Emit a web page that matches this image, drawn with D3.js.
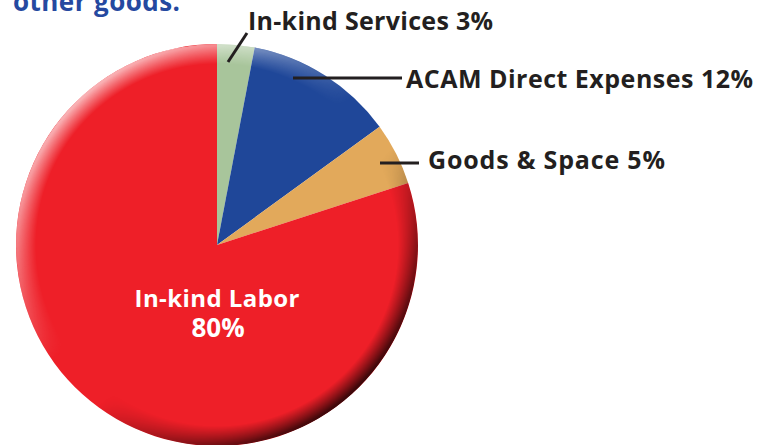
<!DOCTYPE html>
<meta charset="utf-8">
<style>
body { margin: 0; background: #fff; }
svg { display: block; }
.lbl { font-family: "Open Sans", Lato, sans-serif; font-weight: 700; fill: #231f20; }
</style>
<svg id="chart" width="758" height="445"></svg>
<script src="https://d3js.org/d3.v7.min.js"></script>
<script>
// slices clockwise from 12 o'clock
var names = ["In-kind Services", "ACAM Direct Expenses", "Goods & Space", "In-kind Labor"];
var shares = [3, 12, 5, 80];
var colors = ["#a8c59b", "#1f4799", "#e2a95b", "#ee1f28"];

var width = 758, height = 445,
    cx = 217, cy = 245, radius = 201;

var svg = d3.select("#chart");
var defs = svg.append("defs");

// bevel shading: light at top-left, dark at bottom-right
var lg = defs.append("linearGradient").attr("id", "bevel")
    .attr("x1", "0.15").attr("y1", "0.1").attr("x2", "0.85").attr("y2", "0.9");
lg.append("stop").attr("offset", "0").attr("stop-color", "#fff").attr("stop-opacity", 0.7);
lg.append("stop").attr("offset", "0.45").attr("stop-color", "#fff").attr("stop-opacity", 0);
lg.append("stop").attr("offset", "0.6").attr("stop-color", "#000").attr("stop-opacity", 0);
lg.append("stop").attr("offset", "1").attr("stop-color", "#000").attr("stop-opacity", 0.8);

var rg = defs.append("radialGradient").attr("id", "rim")
    .attr("cx", "0.5").attr("cy", "0.5").attr("r", "0.5");
rg.append("stop").attr("offset", "0.9").attr("stop-color", "#fff").attr("stop-opacity", 0);
rg.append("stop").attr("offset", "0.99").attr("stop-color", "#fff").attr("stop-opacity", 1);
defs.append("mask").attr("id", "rimMask")
    .attr("maskContentUnits", "userSpaceOnUse")
  .append("circle").attr("cx", cx).attr("cy", cy).attr("r", radius)
    .attr("fill", "url(#rim)");

var pie = d3.pie().sort(null).value(function(d) { return d; });
var arc = d3.arc().innerRadius(0).outerRadius(radius);

var g = svg.append("g").attr("transform", "translate(" + cx + "," + cy + ")");
g.selectAll("path")
    .data(pie(shares))
  .enter().append("path")
    .attr("d", arc)
    .attr("fill", function(d, i) { return colors[i]; });

svg.append("circle")
    .attr("cx", cx).attr("cy", cy).attr("r", radius)
    .attr("fill", "url(#bevel)")
    .attr("mask", "url(#rimMask)");

// title fragment at top (cut off, as in the source)
svg.append("text")
    .attr("x", 13).attr("y", 11)
    .attr("font-family", "\"Open Sans\", sans-serif")
    .attr("font-weight", 700)
    .attr("font-size", 26)
    .attr("textLength", 167)
    .attr("fill", "#2549a0")
    .text("other goods.");

// outside labels with leader lines
var outside = [
  {i: 0, line: [[228, 62], [247, 33]], x: 248, y: 30, w: 245},
  {i: 1, line: [[293, 78], [402, 78]], x: 406, y: 88, w: 347},
  {i: 2, line: [[380, 163], [419, 163]], x: 428, y: 169, w: 237}
];
outside.forEach(function(o) {
  svg.append("line")
      .attr("x1", o.line[0][0]).attr("y1", o.line[0][1])
      .attr("x2", o.line[1][0]).attr("y2", o.line[1][1])
      .attr("stroke", "#231f20").attr("stroke-width", 3);
  svg.append("text").attr("class", "lbl")
      .attr("x", o.x).attr("y", o.y)
      .attr("font-size", 25)
      .attr("textLength", o.w)
      .text(names[o.i] + " " + shares[o.i] + "%");
});

// inside label, two lines
svg.append("text").attr("class", "lbl")
    .attr("text-anchor", "middle")
    .attr("x", 217).attr("y", 307)
    .attr("font-size", 24)
    .attr("textLength", 165)
    .style("fill", "#fff")
    .text(names[3]);
svg.append("text").attr("class", "lbl")
    .attr("text-anchor", "middle")
    .attr("x", 218).attr("y", 337)
    .attr("font-size", 26)
    .style("fill", "#fff")
    .text(shares[3] + "%");
</script>
